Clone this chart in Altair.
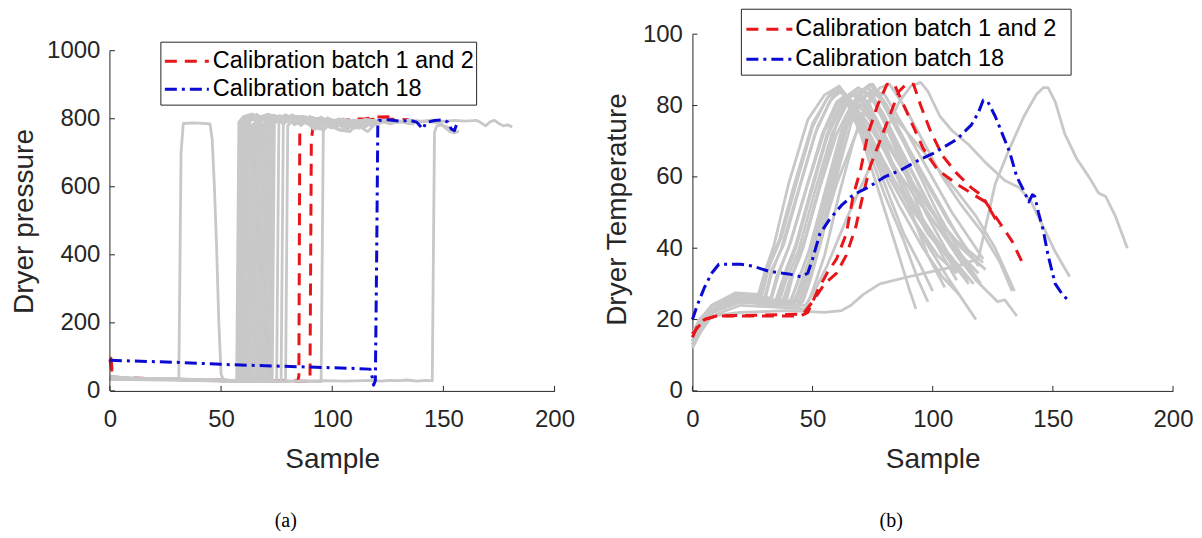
import altair as alt
import pandas as pd

# ---------------- data ----------------
X_TICKS = [0, 50, 100, 150, 200]
P_TICKS = [0, 200, 400, 600, 800, 1000]
T_TICKS = [0, 20, 40, 60, 80, 100]
LEGEND_LABELS = ["Calibration batch 1 and 2", "Calibration batch 18"]
CAPTIONS = ["(a)", "(b)"]
Y_TITLES = ["Dryer pressure", "Dryer Temperature"]
X_TITLE = "Sample"

# Dryer pressure, grey batches (sample, value)
P_G01 = [(0, 42), (5, 38), (12, 36), (20, 37), (28, 34), (31, 34), (32, 700), (33, 786), (38, 788), (45, 785), (46, 740), (47, 600), (48, 420), (49, 200), (50, 50), (51, 33), (55, 29), (59, 28), (60, 30), (61, 790), (63, 805), (67, 798), (71, 808), (75, 795), (79, 803), (83, 790), (87, 800), (91, 785), (95, 797), (99, 782), (103, 793), (108, 780)]
P_G02 = [(0, 36), (8, 35), (20, 33), (32, 34), (45, 31), (56, 29), (57, 29), (58, 790), (60, 806), (64, 814), (68, 795), (72, 812), (76, 790), (80, 809), (84, 785), (88, 806), (92, 780), (96, 801), (100, 776), (104, 765), (108, 788), (112, 794), (116, 780)]
P_G03 = [(0, 38), (10, 37), (22, 35), (35, 33), (48, 31), (58, 30), (59, 792), (62, 810), (66, 802), (70, 811), (74, 800), (78, 808), (82, 797), (86, 806), (90, 795), (95, 803), (100, 792), (105, 800), (110, 790), (115, 798), (120, 794), (125, 797), (130, 792), (135, 796), (140, 793), (145, 796), (150, 792), (155, 795), (160, 793), (165, 795), (167, 788), (169, 779), (171, 791), (173, 795), (175, 786), (177, 779), (179, 782), (181, 776)]
P_G04 = [(0, 44), (6, 39), (16, 37), (26, 34), (38, 32), (50, 30), (59, 28), (60, 785), (62, 802), (66, 795), (70, 808), (74, 797), (78, 805), (82, 792), (86, 801), (90, 786), (94, 776), (96, 765), (99, 785), (103, 795), (107, 783), (110, 789)]
P_G05 = [(0, 34), (10, 33), (24, 32), (40, 30), (52, 28), (59, 27), (60, 788), (63, 812), (67, 790), (71, 813), (75, 795), (79, 810), (83, 782), (87, 806), (91, 778), (95, 803), (99, 775), (103, 798), (107, 772), (111, 792), (115, 776), (118, 793), (121, 789)]
P_G06 = [(0, 37), (12, 36), (26, 34), (40, 32), (52, 31), (60, 30), (61, 780), (64, 799), (68, 806), (72, 796), (76, 805), (80, 791), (84, 800), (88, 787), (92, 779), (94, 770), (97, 789), (100, 797), (104, 792)]
P_G07 = [(0, 40), (9, 37), (22, 36), (34, 33), (48, 31), (61, 29), (62, 790), (65, 807), (69, 799), (73, 810), (77, 800), (81, 806), (85, 794), (89, 802), (93, 790), (97, 798), (101, 787), (105, 794), (109, 781), (112, 772), (114, 776), (117, 789), (120, 792), (122, 784)]
P_G08 = [(0, 35), (14, 34), (28, 33), (44, 31), (56, 29), (62, 28), (63, 792), (66, 813), (70, 792), (74, 810), (78, 784), (82, 808), (86, 780), (90, 804), (94, 776), (98, 800), (102, 770), (105, 765), (108, 762), (111, 786), (114, 794), (117, 790)]
P_G09 = [(0, 41), (8, 37), (20, 36), (34, 32), (50, 30), (63, 28), (64, 780), (67, 801), (71, 794), (75, 806), (79, 796), (83, 803), (87, 790), (91, 798), (95, 785), (99, 794), (103, 782), (106, 791), (109, 788)]
P_G10 = [(0, 36), (12, 35), (26, 34), (42, 31), (56, 29), (64, 27), (65, 785), (68, 805), (72, 797), (76, 809), (80, 800), (84, 806), (88, 793), (92, 801), (96, 788), (100, 795), (103, 781), (106, 772), (109, 785), (112, 793), (116, 797), (119, 790), (121, 788)]
P_G11 = [(0, 38), (10, 36), (24, 35), (40, 32), (54, 30), (65, 29), (66, 790), (69, 804), (73, 797), (77, 808), (81, 799), (85, 804), (89, 791), (93, 799), (97, 786), (100, 776), (103, 790), (107, 797), (111, 791), (115, 795), (118, 786), (120, 787)]
P_G12 = [(0, 42), (6, 38), (16, 37), (30, 34), (46, 31), (60, 29), (66, 28), (67, 788), (70, 803), (74, 795), (78, 806), (82, 797), (86, 801), (89, 786), (92, 768), (95, 782), (98, 793), (102, 795)]
P_G13 = [(0, 35), (12, 34), (26, 34), (40, 32), (54, 30), (67, 27), (68, 792), (71, 813), (75, 790), (79, 812), (83, 785), (87, 808), (91, 780), (95, 805), (99, 774), (103, 800), (107, 770), (111, 792), (114, 770), (116, 762), (119, 783), (122, 791), (125, 788), (128, 789)]
P_G14 = [(0, 37), (10, 36), (22, 35), (38, 32), (54, 30), (68, 28), (69, 784), (72, 801), (76, 794), (80, 806), (84, 797), (88, 803), (92, 790), (96, 798), (100, 784), (104, 792), (108, 787), (111, 793), (114, 779)]
P_G15 = [(0, 39), (9, 37), (20, 36), (36, 33), (52, 31), (69, 29), (70, 790), (73, 806), (77, 798), (81, 808), (85, 800), (89, 804), (93, 791), (97, 786), (100, 773), (103, 784), (107, 793), (111, 796), (115, 789), (119, 795), (122, 788)]
P_G16 = [(0, 36), (14, 35), (30, 34), (46, 31), (60, 29), (70, 28), (71, 787), (74, 810), (78, 786), (82, 812), (86, 782), (90, 807), (94, 777), (98, 803), (102, 774), (106, 798), (110, 772), (114, 791), (118, 778), (122, 794), (126, 785), (130, 793), (134, 789)]
P_G17 = [(0, 40), (8, 37), (22, 36), (38, 32), (56, 30), (71, 28), (72, 790), (75, 806), (79, 798), (83, 808), (87, 800), (91, 804), (95, 792), (99, 797), (103, 782), (105, 775), (108, 788), (112, 794), (117, 791)]
P_G18 = [(0, 37), (12, 36), (26, 35), (44, 31), (60, 29), (72, 27), (73, 786), (76, 803), (80, 795), (84, 806), (88, 798), (92, 802), (96, 790), (100, 795), (104, 779), (106, 770), (109, 786), (113, 794), (117, 791), (120, 789)]
P_G19 = [(0, 38), (10, 36), (24, 35), (42, 32), (58, 30), (73, 28), (74, 790), (77, 805), (81, 797), (85, 807), (89, 799), (93, 801), (97, 788), (101, 794), (105, 784), (109, 790), (113, 788)]
P_G20 = [(0, 36), (12, 35), (28, 34), (46, 31), (62, 29), (75, 27), (76, 788), (79, 803), (83, 796), (87, 805), (91, 798), (95, 801), (99, 789), (103, 794), (107, 786), (111, 791), (115, 783), (119, 788), (123, 793), (127, 788), (131, 791), (134, 786), (137, 785)]
P_G21 = [(0, 39), (12, 36), (28, 35), (46, 32), (64, 30), (77, 28), (78, 785), (81, 801), (85, 794), (89, 804), (93, 796), (97, 790), (100, 778), (103, 788), (107, 795), (112, 793)]
P_G22 = [(0, 37), (10, 36), (24, 35), (44, 31), (64, 29), (79, 27), (80, 780), (83, 798), (87, 793), (91, 803), (95, 795), (99, 799), (103, 786), (107, 792), (111, 788), (115, 791), (119, 785)]
P_G23 = [(0, 38), (14, 36), (30, 35), (50, 31), (70, 29), (86, 28), (95, 27), (96, 770), (98, 790), (102, 797), (106, 791), (110, 796), (114, 790), (118, 794), (122, 789), (126, 793), (130, 790), (134, 792), (138, 789), (142, 792), (146, 789), (149, 785), (151, 772), (153, 762), (155, 758), (157, 764)]
P_G24 = [(0, 41), (10, 37), (20, 36), (32, 33), (44, 31), (56, 29), (70, 30), (84, 29), (96, 30), (106, 29), (118, 31), (122, 29), (126, 31), (130, 30), (134, 32), (138, 29), (142, 31), (144, 30), (145, 30), (146, 760), (147, 778), (149, 782), (151, 777), (153, 774), (155, 757)]
P_GRAY = [P_G01, P_G02, P_G03, P_G04, P_G05, P_G06, P_G07, P_G08, P_G09, P_G10, P_G11, P_G12,
          P_G13, P_G14, P_G15, P_G16, P_G17, P_G18, P_G19, P_G20, P_G21, P_G22, P_G23, P_G24]

# Dryer pressure, calibration batches
P_R1 = [(0, 97), (0.5, 95), (1, 60), (2, 40), (10, 38), (30, 34), (50, 31), (70, 30), (84.5, 29), (85, 45), (85.4, 760), (86, 790), (95, 796), (105, 797), (115, 800), (120, 805), (125, 806), (128, 803)]
P_R2 = [(0, 92), (1, 55), (2, 38), (15, 36), (40, 32), (70, 30), (89.5, 28), (90, 32), (90.6, 740), (91.5, 780), (100, 792), (110, 795), (120, 799), (130, 798), (134, 797), (136, 790), (137, 775)]
P_B18 = [(0, 90), (10, 88), (30, 84), (50, 78), (70, 74), (90, 70), (110, 66), (117, 64), (118, 40), (118.6, 17), (119.4, 30), (120, 400), (120.5, 780), (121, 795), (125, 797), (130, 793), (135, 795), (138, 790), (140, 775), (141, 770), (142, 788), (146, 795), (150, 797), (152, 790), (153.5, 770), (155, 765), (156, 785), (157, 792)]

# Dryer temperature, grey batches
T_G01 = [(0, 14), (3, 19), (8, 23), (18, 26), (27, 26), (30, 33), (34, 41), (40, 58), (48, 76), (55, 83), (60, 85), (63, 83), (70, 72), (78, 55), (85, 40), (90, 29), (93, 23)]
T_G02 = [(0, 13), (3, 18), (8, 22), (18, 25.5), (28, 25), (31, 35), (36, 42), (42, 57), (50, 75), (57, 83), (61, 85.5), (65, 82), (72, 70), (80, 55), (88, 42), (94, 31), (98, 25)]
T_G03 = [(0, 15), (3, 19), (8, 23), (18, 27), (30, 26), (33, 34), (38, 41), (45, 58), (52, 74), (58, 82), (62, 84), (67, 80), (76, 66), (86, 52), (96, 40), (104, 32), (111, 27)]
T_G04 = [(0, 12), (3, 17), (8, 22), (20, 25), (32, 24.5), (35, 32), (40, 40), (47, 56), (54, 72), (60, 81), (64, 83), (68, 80), (76, 68), (86, 55), (96, 43), (106, 32), (112, 26), (118, 20)]
T_G05 = [(0, 16), (3, 20), (8, 24), (20, 27), (33, 26), (36, 33), (41, 42), (48, 58), (55, 73), (61, 81), (65, 82), (70, 77), (80, 64), (90, 52), (100, 43), (108, 37), (115, 31)]
T_G06 = [(0, 14), (3, 18), (8, 22), (20, 25), (34, 24), (37, 30), (42, 38), (49, 55), (56, 71), (62, 80), (66, 81), (72, 76), (82, 65), (92, 55), (102, 46), (112, 38), (119, 33)]
T_G07 = [(0, 13), (3, 18), (8, 23), (20, 26), (35, 25), (38, 32), (43, 40), (50, 57), (57, 74), (63, 82), (67, 84), (73, 79), (82, 68), (92, 57), (102, 48), (112, 40), (120, 35)]
T_G08 = [(0, 15), (3, 19), (8, 23), (20, 26), (36, 25), (39, 31), (44, 39), (51, 56), (58, 72), (64, 80), (68, 81), (74, 76), (84, 63), (94, 50), (104, 40), (110, 33)]
T_G09 = [(0, 14), (3, 18), (8, 22), (20, 25), (37, 24), (40, 30), (45, 38), (52, 55), (59, 73), (65, 82), (69, 84), (74, 80), (82, 66), (90, 52), (98, 38), (105, 29)]
T_G10 = [(0, 16), (3, 20), (8, 23), (20, 26), (38, 25), (41, 32), (46, 40), (53, 57), (60, 72), (66, 80), (70, 82), (76, 77), (86, 64), (96, 52), (106, 42), (113, 35)]
T_G11 = [(0, 13), (3, 17), (8, 22), (20, 25), (40, 24), (43, 29), (48, 38), (55, 55), (62, 72), (67, 79), (71, 80), (77, 74), (88, 62), (100, 50), (110, 42), (121, 36)]
T_G12 = [(0, 15), (3, 19), (8, 23), (20, 26), (41, 25), (44, 31), (49, 40), (56, 58), (62, 73), (68, 82), (72, 84), (78, 79), (88, 66), (98, 53), (108, 41), (118, 32)]
T_G13 = [(0, 14), (3, 18), (8, 22), (20, 25), (42, 24), (45, 30), (50, 39), (57, 57), (63, 72), (69, 81), (73, 83), (79, 78), (88, 64), (97, 50), (106, 39), (117, 30)]
T_G14 = [(0, 13), (3, 18), (8, 23), (20, 26), (43, 25), (46, 31), (51, 41), (58, 60), (64, 75), (70, 84), (74, 86), (80, 80), (90, 72), (100, 64), (110, 56), (118, 49), (126, 40), (134, 28)]
T_G15 = [(0, 15), (3, 19), (8, 23), (20, 26), (44, 24), (47, 30), (52, 40), (59, 60), (65, 76), (70, 84), (73, 85), (80, 77), (90, 63), (100, 50), (110, 38), (118, 31), (124, 27), (127, 25), (130, 25.5), (135, 21)]
T_G16 = [(0, 14), (3, 18), (8, 22), (20, 25), (45, 24), (48, 30), (53, 42), (59, 60), (65, 76), (71, 84), (75, 86), (81, 80), (90, 68), (100, 56), (110, 44), (117, 37), (122, 34)]
T_G17 = [(0, 16), (3, 20), (8, 23), (20, 26), (46, 25), (49, 31), (54, 43), (60, 60), (66, 75), (72, 83), (76, 84), (82, 78), (92, 64), (102, 50), (112, 38), (120, 30)]
T_G18 = [(0, 14), (3, 18), (8, 22), (20, 25), (47, 24), (50, 27), (56, 35), (64, 48), (72, 60), (80, 72), (86, 81), (91, 85.5), (95, 86.5), (98, 84), (103, 77), (108, 73), (115, 69), (122, 64), (130, 59), (136, 57), (141, 53), (146, 46), (151, 39), (157, 32)]
T_G19 = [(0, 13), (3, 17), (8, 21), (20, 22), (40, 22.5), (55, 22), (62, 22.5), (66, 24), (71, 27), (78, 30), (90, 32), (100, 33.5), (110, 35), (119, 37), (122, 46), (126, 58), (132, 68), (138, 77), (143, 83), (146, 85), (148, 85), (151, 81), (155, 72), (160, 65), (165, 60), (169, 55.5), (172, 54.5), (176, 49), (181, 40)]
T_G20 = [(0, 15), (3, 19), (8, 23), (20, 26), (42, 25), (46, 30), (52, 40), (60, 58), (68, 72), (74, 81), (78, 85), (82, 86), (88, 80), (96, 70), (104, 60), (112, 52), (120, 45), (128, 36), (133, 28)]
T_G21 = [(0, 13), (3, 17), (8, 22), (20, 25), (30, 25), (33, 33), (37, 40), (44, 56), (51, 72), (57, 81), (61, 84), (65, 82), (72, 72), (80, 58), (88, 44), (95, 35), (100, 28)]
T_G22 = [(0, 14), (3, 19), (8, 23), (20, 26), (36, 25), (39, 34), (43, 41), (50, 58), (56, 72), (62, 80), (66, 83), (70, 82), (78, 70), (88, 56), (98, 44), (108, 36), (115, 30)]
T_G23 = [(0, 15), (3, 19), (8, 24), (18, 27.5), (29, 27), (32, 35), (37, 43), (44, 60), (50, 74), (56, 82), (60, 84), (64, 83), (70, 76), (80, 62), (92, 48), (102, 38), (110, 33)]
T_G24 = [(0, 12), (3, 16), (8, 21), (20, 24), (47, 23), (50, 28), (55, 38), (61, 55), (67, 70), (72, 80), (76, 84), (80, 83), (88, 74), (98, 62), (108, 50), (116, 42), (121, 37)]
T_G25 = [(0, 14), (3, 18), (8, 22), (20, 25), (44, 24), (47, 32), (52, 45), (58, 62), (64, 76), (69, 83), (73, 85), (78, 82), (86, 72), (96, 60), (106, 48), (114, 40), (119, 35)]
T_G26 = [(0, 16), (3, 20), (8, 23), (20, 26), (39, 25), (42, 33), (47, 43), (54, 60), (60, 75), (65, 83), (69, 85), (74, 83), (80, 75), (88, 62), (96, 48), (104, 38), (110, 31)]
T_GRAY = [T_G01, T_G02, T_G03, T_G04, T_G05, T_G06, T_G07, T_G08, T_G09, T_G10, T_G11, T_G12, T_G13,
          T_G14, T_G15, T_G16, T_G17, T_G18, T_G19, T_G20, T_G21, T_G22, T_G23, T_G24, T_G25, T_G26]

# Dryer temperature, calibration batches
T_R1 = [(0, 15), (2, 18), (5, 20), (10, 21), (45, 21), (48, 22), (52, 28), (56, 33), (60, 37), (64, 44), (67, 55), (70, 62), (73, 72), (77, 80), (81, 86), (84, 86), (88, 80), (92, 74), (96, 68), (102, 62), (110, 58), (117, 55), (122, 53), (128, 46)]
T_R2 = [(0, 16), (5, 20), (10, 21), (46, 21.5), (50, 25), (55, 30), (60, 33), (64, 38), (68, 46), (71, 55), (74, 63), (78, 70), (82, 77), (86, 84), (89, 86), (92, 86), (95, 80), (99, 73), (104, 66), (110, 61), (116, 57), (120, 55), (124, 51), (128, 47), (133, 42), (138, 35)]
T_B18 = [(0, 20), (2, 24), (5, 29), (8, 33), (11, 35.5), (20, 35.5), (25, 35), (32, 33.5), (40, 32.8), (45, 32), (48, 33), (50, 37), (53, 44), (57, 48), (62, 52), (67, 55), (73, 57), (80, 60), (87, 62), (95, 65), (100, 66.5), (110, 70.5), (116, 74.5), (119, 78), (121, 81.5), (123, 81), (126, 77), (129, 72), (132, 67), (135, 60), (138, 56), (140, 53), (141.5, 55), (142.5, 54.5), (144, 50), (146, 45), (148, 38), (151, 30), (154, 27), (157, 25)]

# ---------------- styling ----------------
GRAY = "#c8c8c8"
RED = "#e8161b"
BLUE = "#0a0ad2"
AX = "#262626"
SANS = "Liberation Sans"
SERIF = "Liberation Serif"
H = 357
RED_DASH = [12, 8]
BLUE_DASH = [12, 5, 3, 5]


def frame(lines, prefix):
    rows = []
    for i, pts in enumerate(lines):
        for j, (s, v) in enumerate(pts):
            rows.append({"id": f"{prefix}{i}", "sample": s, "value": v, "order": j})
    return pd.DataFrame(rows)


def panel(gray, reds, blue, ymax, yticks, ytitle, width, title_x, title_y,
          leg, caption, cap_x, red_under_gray, draw_y_domain):
    xsc = alt.Scale(domain=[0, 200], nice=False, zero=False)
    ysc = alt.Scale(domain=[0, ymax], nice=False, zero=False)
    xenc = alt.X("sample:Q", scale=xsc, axis=alt.Axis(
        values=X_TICKS, format="d", title=X_TITLE, titleY=55, labelPadding=17,
        ticks=False, tickSize=0, grid=False, domainColor=AX, domainWidth=1,
        labelFont=SANS, labelFontSize=24, labelColor=AX, titleFont=SANS,
        titleFontSize=28, titleFontWeight="normal", titleColor=AX, labelFlush=False))
    yenc = alt.Y("value:Q", scale=ysc, axis=alt.Axis(
        values=yticks, format="d", title=ytitle, titleX=title_x, titleY=title_y, labelPadding=10,
        ticks=False, tickSize=0, grid=False, domain=draw_y_domain, domainColor=AX, domainWidth=1,
        labelFont=SANS, labelFontSize=24, labelColor=AX, titleFont=SANS,
        titleFontSize=28, titleFontWeight="normal", titleColor=AX, labelFlush=False))

    def lines(df, color, width_, dash=None):
        kw = dict(color=color, strokeWidth=width_, strokeJoin="round")
        if dash:
            kw["strokeDash"] = dash
        return alt.Chart(df).mark_line(**kw).encode(
            x=xenc, y=yenc, detail="id:N", order="order:Q")

    g_layer = lines(frame(gray, "g"), GRAY, 2.8)
    r_layer = lines(frame(reds, "r"), RED, 3, RED_DASH)
    b_layer = lines(frame([blue], "b"), BLUE, 3, BLUE_DASH)
    data_layers = [r_layer, g_layer, b_layer] if red_under_gray else [g_layer, r_layer, b_layer]

    xt = alt.Chart(pd.DataFrame({"sample": X_TICKS})).mark_rule(color=AX, strokeWidth=1).encode(
        x=xenc, y=alt.value(H), y2=alt.value(H - 5))
    yt = alt.Chart(pd.DataFrame({"value": yticks})).mark_rule(color=AX, strokeWidth=1).encode(
        y=yenc, x=alt.value(0), x2=alt.value(5))
    extra = []
    if not draw_y_domain:
        extra.append(alt.Chart(pd.DataFrame({"value": [yticks[0]], "top": [yticks[-1]]}))
                     .mark_rule(color=AX, strokeWidth=1)
                     .encode(x=alt.value(0), y=yenc, y2="top:Q"))

    one = pd.DataFrame({"k": [0]})
    bx0, bx1, by0, by1, r1, r2, lx0, lx1, tx = leg
    box = alt.Chart(one).mark_rect(fill="white", stroke=AX, strokeWidth=1).encode(
        x=alt.value(bx0), x2=alt.value(bx1), y=alt.value(by0), y2=alt.value(by1))
    lr = alt.Chart(one).mark_rule(color=RED, strokeWidth=3, strokeDash=RED_DASH).encode(
        x=alt.value(lx0), x2=alt.value(lx1), y=alt.value(r1))
    lb = alt.Chart(one).mark_rule(color=BLUE, strokeWidth=3, strokeDash=BLUE_DASH).encode(
        x=alt.value(lx0), x2=alt.value(lx1), y=alt.value(r2))
    t1 = alt.Chart(one).mark_text(align="left", baseline="middle", font=SANS, fontSize=23.5,
                                  color="black").encode(
        x=alt.value(tx), y=alt.value(r1), text=alt.value(LEGEND_LABELS[0]))
    t2 = alt.Chart(one).mark_text(align="left", baseline="middle", font=SANS, fontSize=23.5,
                                  color="black").encode(
        x=alt.value(tx), y=alt.value(r2), text=alt.value(LEGEND_LABELS[1]))
    cap = alt.Chart(one).mark_text(align="center", baseline="middle", font=SERIF, fontSize=20,
                                   color="black").encode(
        x=alt.value(cap_x), y=alt.value(487), text=alt.value(caption))

    return alt.layer(*data_layers, xt, yt, *extra, box, lr, lb, t1, t2, cap).properties(
        width=width, height=H)


left = panel(P_GRAY, [P_R1, P_R2], P_B18, 1048.5, P_TICKS, Y_TITLES[0], 445,
             -71, 187, (51, 367, 8, 71, 27, 55, 55, 99, 103), CAPTIONS[0], 176,
             True, False)
right = panel(T_GRAY, [T_R1, T_R2], T_B18, 100, T_TICKS, Y_TITLES[1], 481,
              -61, 175, (49, 379, -25, 41, -5, 25, 54, 100, 103), CAPTIONS[1], 199,
              False, True)

chart = alt.hconcat(left, right, spacing=28).properties(
    padding={"left": 3, "top": 0, "right": 0, "bottom": 0}
).configure_view(stroke=None)

chart.save("out.html", embed_options={"renderer": "svg", "actions": False})
